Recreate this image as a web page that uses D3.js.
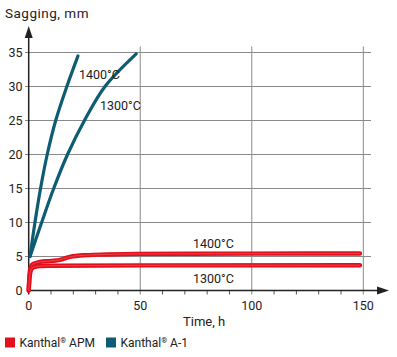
<!DOCTYPE html>
<html><head><meta charset="utf-8">
<script src="https://cdn.jsdelivr.net/npm/d3@7"></script>
<style>
body{margin:0;background:#fff;}
text{font-family:Roboto,"Noto Sans",sans-serif;fill:#222;}
</style></head>
<body><svg id="c" width="397" height="357"></svg>
<script>
// ---- data ----
const xTicks = [0, 50, 100, 150];
const xMinorTicks = [10, 20, 30, 40, 60, 70, 80, 90, 110, 120, 130, 140];
const yTicks = [0, 5, 10, 15, 20, 25, 30, 35];
const a1_1400 = [[0.6,5],[2.8,10],[5.3,15],[8.3,20],[12.1,25],[17.1,30],[22.1,34.5]];
const a1_1300 = [[0.6,5],[5.8,10],[11.2,15],[17.4,20],[25.0,25],[34.2,30],[48.2,34.8]];
const apm_1400 = [[0,0],[0.4,2.4],[1,3.5],[2,3.9],[5,4.2],[10,4.35],[14,4.5],[18.5,4.95],[26,5.2],[35,5.3],[48.5,5.39],[100,5.42],[148.5,5.45]];
const apm_1300 = [[0,0],[0.4,2],[1,3.0],[2,3.4],[5,3.6],[10,3.65],[50,3.7],[148.5,3.72]];
const legend = [{name:"Kanthal", sup:"®", rest:" APM", color:"#e3101c"},{name:"Kanthal", sup:"®", rest:" A-1", color:"#0d5c74"}];
const RED = "#e3101c", TEAL = "#0d5c74";

// ---- scales ----
const svg = d3.select("#c");
const x = d3.scaleLinear().domain([0,150]).range([28.7,363.3]);
const y = d3.scaleLinear().domain([0,35]).range([290.5,52.5]);

// grid
const g = svg.append("g");
g.selectAll(".hg").data(yTicks.filter(d=>d>0)).enter().append("line")
  .attr("x1",25).attr("x2",371).attr("y1",d=>y(d)).attr("y2",d=>y(d))
  .attr("stroke","#8a8a8a").attr("stroke-width",1);
g.selectAll(".vg").data(xTicks.filter(d=>d>0)).enter().append("line")
  .attr("x1",d=>x(d)).attr("x2",d=>x(d)).attr("y1",46.5).attr("y2",y(0)+4)
  .attr("stroke","#8a8a8a").attr("stroke-width",1);
g.selectAll(".mt").data(xMinorTicks).enter().append("line")
  .attr("x1",d=>x(d)).attr("x2",d=>x(d)).attr("y1",y(0)).attr("y2",y(0)+4)
  .attr("stroke","#555").attr("stroke-width",1);

// axes lines
svg.append("line").attr("x1",x(0)).attr("x2",381).attr("y1",y(0)).attr("y2",y(0)).attr("stroke","#222").attr("stroke-width",1.5);
svg.append("line").attr("x1",x(0)).attr("x2",x(0)).attr("y1",y(0)+4).attr("y2",35).attr("stroke","#222").attr("stroke-width",1.5);
svg.append("path").attr("d",`M${x(0)},26 L${x(0)-4},38 L${x(0)+4},38 Z`).attr("fill","#222");
svg.append("path").attr("d",`M389,${y(0)} L377,${y(0)-4} L377,${y(0)+4} Z`).attr("fill","#222");

// tick labels
svg.selectAll(".yl").data(yTicks).enter().append("text")
  .attr("x",22.5).attr("y",d=>y(d)).attr("dy","0.36em").attr("text-anchor","end")
  .attr("font-size",12.5).text(d=>d);
svg.selectAll(".xl").data(xTicks).enter().append("text")
  .attr("x",d=>x(d)).attr("y",309.5).attr("text-anchor","middle")
  .attr("font-size",12.5).text(d=>d);

// axis titles
svg.append("text").attr("x",5).attr("y",18).attr("font-size",13.5).attr("letter-spacing",0.5).text("Sagging, mm");
svg.append("text").attr("x",183).attr("y",325.5).attr("font-size",13).text("Time, h");

// lines
const tline = d3.line().x(d=>x(d[0])).y(d=>y(d[1])).curve(d3.curveCatmullRom.alpha(0.5));
const rline = d3.line().x(d=>x(d[0])).y(d=>y(d[1])).curve(d3.curveMonotoneX);
[a1_1400, a1_1300].forEach(s=>{
  svg.append("path").attr("d",tline(s)).attr("fill","none").attr("stroke",TEAL).attr("stroke-width",3.2).attr("stroke-linecap","round");
});
[apm_1400, apm_1300].forEach(s=>{
  svg.append("path").attr("d",rline(s)).attr("fill","none").attr("stroke",RED).attr("stroke-width",4.4).attr("stroke-linecap","round");
  svg.append("path").attr("d",rline(s)).attr("fill","none").attr("stroke","#f37c84").attr("stroke-width",1).attr("opacity",0.45);
});

// series labels
const lab = (t,px,py)=>svg.append("text").attr("x",px).attr("y",py).attr("dy","0.36em").attr("font-size",12.5).text(t);
lab("1400°C", 79, 74);
lab("1300°C", 100, 105);
lab("1400°C", 193, 243.5);
lab("1300°C", 193, 278);

// legend
const lx = [5, 106];
legend.forEach((l,i)=>{
  svg.append("rect").attr("x",lx[i]).attr("y",337.5).attr("width",10).attr("height",10).attr("fill",l.color);
  const t = svg.append("text").attr("x",lx[i]+14.5).attr("y",347).attr("font-size",12);
  t.append("tspan").text(l.name);
  t.append("tspan").attr("font-size",7.5).attr("dy",-4).text(l.sup);
  t.append("tspan").attr("dy",4).text(l.rest);
});
</script></body></html>
